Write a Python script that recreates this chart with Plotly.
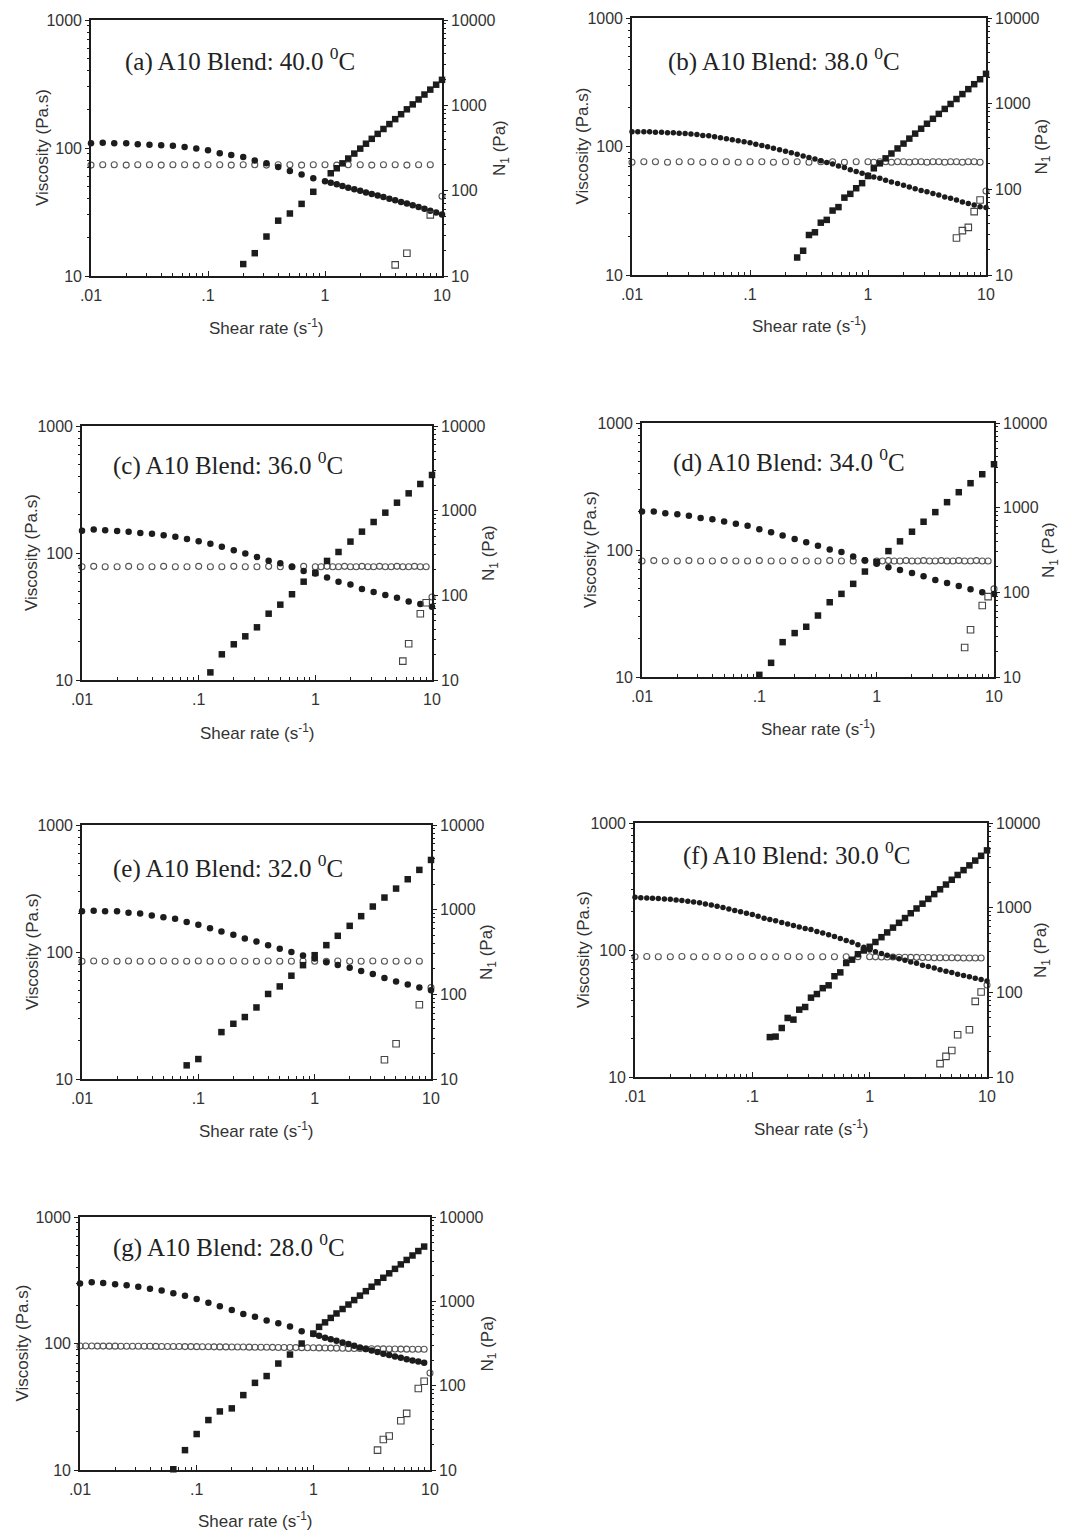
import plotly.graph_objects as go

# ---------------- shear-rate grids (s^-1) ----------------
X10 = [0.01, 0.0126, 0.0158, 0.02, 0.0251, 0.0316, 0.0398, 0.0501, 0.0631, 0.0794,
       0.1, 0.126, 0.158, 0.2, 0.251, 0.316, 0.398, 0.501, 0.631, 0.794,
       1.0, 1.26, 1.58, 2.0, 2.51, 3.16, 3.98, 5.01, 6.31, 7.94, 10.0]
X20 = [0.01, 0.0112, 0.0126, 0.0141, 0.0158, 0.0178, 0.02, 0.0224, 0.0251, 0.0282,
       0.0316, 0.0355, 0.0398, 0.0447, 0.0501, 0.0562, 0.0631, 0.0708, 0.0794, 0.0891,
       0.1, 0.112, 0.126, 0.141, 0.158, 0.178, 0.2, 0.224, 0.251, 0.282,
       0.316, 0.355, 0.398, 0.447, 0.501, 0.562, 0.631, 0.708, 0.794, 0.891,
       1.0, 1.12, 1.26, 1.41, 1.58, 1.78, 2.0, 2.24, 2.51, 2.82,
       3.16, 3.55, 3.98, 4.47, 5.01, 5.62, 6.31, 7.08, 7.94, 8.91, 10.0]

# ---------------- (a) 40.0 C ----------------
a_visc_x = X10[:20] + X20[40:]
a_visc = [109, 110, 109, 109, 107, 106, 105, 104, 102, 99,
          96, 91, 88, 85, 80, 76, 71, 66, 62, 58,
          55, 53.5, 52, 50.5, 49, 47.6, 46.3, 45, 43.8, 42.6,
          41.4, 40.2, 39, 37.9, 36.8, 35.7, 34.6, 33.5, 32.4, 31.3, 30.3]
a_oc_x = X10
a_oc = [73.5, 74, 74, 73.5, 74, 74, 73.5, 74, 74, 73.5,
        74, 74, 73.5, 74, 74, 73.5, 74, 74, 73.5, 74,
        74, 73.5, 74, 74, 73.5, 74, 74, 73.5, 74, 74, 42]
a_n1_x = X10[13:20] + X20[41:]
a_n1 = [13.8, 18.5, 29, 44.5, 54, 70, 97,
        160, 183, 209, 238, 272, 311, 355, 405, 463, 528,
        603, 689, 787, 898, 1026, 1171, 1338, 1528, 1745, 1990]
a_os_x = [3.98, 5.01, 7.94]
a_os = [13.5, 18.5, 52]

# ---------------- (b) 38.0 C ----------------
b_visc_x = X20
b_visc = [130, 130, 130, 130, 129, 129, 128, 128, 127, 126,
          125, 124, 122, 121, 119, 117, 115, 113, 111, 109,
          107, 104, 102, 99.5, 97, 94.5, 92, 89.5, 87, 84.5,
          82, 80, 77.5, 75, 73, 70.5, 68.5, 66, 64, 62,
          60, 58, 56.5, 54.5, 53, 51.5, 50, 48.5, 47, 45.5,
          44.5, 43, 42, 40.5, 39.5, 38.3, 37, 36, 35, 34, 33.5]
b_oc_x = X10[:20] + X20[40:]
b_oc = [75.5, 76, 76, 75.5, 76, 76, 75.5, 76, 76, 75.5,
        76, 76, 75.5, 76, 76, 75.5, 76, 76, 75.5, 76,
        76, 75.5, 76, 76, 75.5, 76, 76, 75.5, 76, 76,
        75.5, 76, 76, 75.5, 76, 76, 75.5, 76, 76, 75.5, 45]
b_n1_x = X20[28:]
b_n1 = [16, 19.2, 29.3, 31.5, 40.8, 44, 56.5, 62, 80, 88.5, 103, 118,
        143, 176, 201, 230, 262, 300, 342, 391, 447, 510, 583, 666, 760,
        868, 992, 1133, 1294, 1478, 1688, 1928, 2230]
b_os_x = [5.62, 6.31, 7.08, 7.94, 8.91]
b_os = [27, 33, 36, 55, 75]

# ---------------- (c) 36.0 C ----------------
c_visc_x = X10
c_visc = [150, 153, 151, 149, 147, 144, 142, 138, 134, 129,
          124, 118, 112, 105, 99, 93, 87, 83, 78, 72,
          69, 64, 59.5, 56.5, 52, 49.3, 46.7, 44.5, 41.6, 39.6, 37.8]
c_oc_x = X10[:20] + X20[40:]
c_oc = [78, 78.5, 78, 78, 78.5, 78, 78, 78.5, 78, 78,
        78.5, 78, 78, 78.5, 78, 78, 78.5, 78, 78, 78.5,
        78, 78, 78.5, 78, 78, 78.5, 78, 78, 78.5, 78,
        78, 78.5, 78, 78, 78.5, 78, 78, 78.5, 78, 78, 45]
c_n1_x = X10[11:]
c_n1 = [12.3, 20.1, 26.4, 32.8, 41.9, 60.7, 77.6, 103, 145, 184,
        255, 325, 431, 565, 735, 947, 1242, 1602, 2066, 2638]
c_os_x = [5.62, 6.31, 7.94, 8.91]
c_os = [16.7, 26.8, 60.7, 81.8]

# ---------------- (d) 34.0 C ----------------
d_visc_x = X10
d_visc = [201, 201, 195, 191, 186, 179, 175, 168, 161, 155,
          146, 138, 130, 122, 115, 108, 101, 96.5, 89, 83,
          78, 73, 69.5, 66, 62, 58, 55, 52, 49, 46.5, 45]
d_oc_x = X10[:20] + X20[40:]
d_oc = [82, 82.5, 82, 82, 82.5, 82, 82, 82.5, 82, 82,
        82.5, 82, 82, 82.5, 82, 82, 82.5, 82, 82, 82.5,
        82, 82, 82.5, 82, 82, 82.5, 82, 82, 82.5, 82,
        82, 82.5, 82, 82, 82.5, 82, 82, 82.5, 82, 82, 49.4]
d_n1_x = X10[10:]
d_n1 = [10.6, 14.7, 25.8, 33, 39.2, 53.2, 76.4, 95.9, 126, 176, 228,
        307, 400, 520, 682, 886, 1161, 1523, 1945, 2483, 3258]
d_os_x = [5.62, 6.31, 7.94, 8.91]
d_os = [22.3, 36.2, 69.8, 89]

# ---------------- (e) 32.0 C ----------------
e_visc_x = X10
e_visc = [209, 211, 209, 209, 204, 201, 194, 188, 183, 172,
          164, 154, 145, 137, 128, 121, 113, 106, 100, 94,
          89, 83, 79, 75, 71, 67, 62.5, 58.5, 55.5, 52.5, 50]
e_oc_x = X10
e_oc = [84.5, 85, 84.5, 84.5, 85, 84.5, 84.5, 85, 84.5, 84.5,
        85, 84.5, 84.5, 85, 84.5, 84.5, 85, 84.5, 84.5, 85,
        84.5, 84.5, 85, 84.5, 84.5, 85, 84.5, 84.5, 85, 84.5, 52.4]
e_n1_x = X10[9:11] + X10[12:]
e_n1 = [14.5, 17.2, 35.8, 44.9, 53.9, 70, 101, 124, 166, 221, 290,
        381, 491, 644, 838, 1089, 1390, 1775, 2287, 2950, 3866]
e_os_x = [3.98, 5.01, 7.94]
e_os = [16.9, 26.1, 75.3]

# ---------------- (f) 30.0 C ----------------
f_visc_x = X20
f_visc = [260, 258, 257, 255, 254, 252, 251, 248, 245, 242,
          239, 235, 230, 226, 221, 216, 210, 205, 200, 195,
          190, 184, 178, 174, 170, 165, 160, 156, 152, 148,
          145, 140, 136, 132, 128, 123, 119, 115, 110, 105,
          100, 97, 94, 91, 88, 85.5, 83, 80.5, 78.5, 76,
          74, 72, 70, 68, 66.5, 64.5, 63, 61.5, 60, 58.5, 57]
f_oc_x = X10[:20] + X20[40:]
f_oc = [88.5, 89, 88.5, 88.5, 89, 88.5, 88.5, 89, 88.5, 88.5,
        89, 88.5, 88.5, 89, 88.5, 88.5, 88.5, 88.5, 88.5, 88.5,
        88.5, 88.3, 88.2, 88, 88, 87.8, 87.7, 87.5, 87.5, 87.3,
        87.2, 87, 87, 86.9, 86.8, 86.7, 86.6, 86.5, 86.5, 86.5, 53]
f_n1_x = X20[23:]
f_n1 = [29.6, 30, 37.9, 49.8, 47.6, 62.4, 67.1, 86.5, 95.5, 112, 121, 155, 172, 222, 243,
        282, 312, 345, 393, 448, 510, 581, 662, 754, 859, 978, 1114, 1269, 1446,
        1647, 1876, 2137, 2434, 2773, 3158, 3598, 4098, 4750]
f_os_x = [3.98, 4.47, 5.01, 5.62, 7.08, 7.94, 8.91]
f_os = [14.4, 17.5, 20.6, 31.6, 36.2, 78.3, 101]

# ---------------- (g) 28.0 C ----------------
g_visc_x = X10[:20] + X20[40:60]
g_visc = [298, 305, 301, 294, 289, 281, 271, 262, 250, 238,
          225, 210, 197, 184, 171, 163, 152, 144.5, 136, 125,
          119, 115, 111, 108, 105, 102, 99, 96, 93, 90.5,
          88, 85.5, 83, 81, 79, 77, 75, 73.5, 72, 70.5]
g_oc_x = X20
g_oc = [95.5, 95.5, 95.5, 95.4, 95.4, 95.3, 95.3, 95.2, 95.2, 95.1,
        95, 95, 95, 94.9, 94.8, 94.8, 94.7, 94.6, 94.5, 94.5,
        94.4, 94.3, 94.2, 94.1, 94, 94, 93.9, 93.8, 93.7, 93.6,
        93.5, 93.4, 93.3, 93.2, 93.1, 93, 92.9, 92.8, 92.7, 92.6,
        92.5, 92.3, 92.2, 92, 91.9, 91.7, 91.5, 91.4, 91.2, 91,
        90.9, 90.7, 90.6, 90.5, 90.4, 90.3, 90.2, 90.1, 90, 90, 58.5]
g_n1_x = X10[8:20] + X20[40:60]
g_n1 = [10.2, 17.2, 26.7, 39.1, 49.5, 53.8, 77.3, 108, 130, 183, 234, 316,
        415, 498, 563, 636, 718, 811, 916, 1035, 1169, 1320, 1491, 1684,
        1902, 2148, 2426, 2741, 3095, 3496, 3949, 4460]
g_os_x = [3.55, 3.98, 4.47, 5.62, 6.31, 7.94, 8.91]
g_os = [17.2, 23, 25.3, 38.4, 46.9, 92.7, 113]

# tick labels
X_TICKS = [0.01, 0.1, 1, 10]
X_TICKTEXT = [".01", ".1", "1", "10"]
YL_TICKS = [10, 100, 1000]
YL_TICKTEXT = ["10", "100", "1000"]
YR_TICKS = [10, 100, 1000, 10000]
YR_TICKTEXT = ["10", "100", "1000", "10000"]

LABELS = ["(a) A10 Blend: 40.0 <sup>0</sup>C", "(b) A10 Blend: 38.0 <sup>0</sup>C",
          "(c) A10 Blend: 36.0 <sup>0</sup>C", "(d) A10 Blend: 34.0 <sup>0</sup>C",
          "(e) A10 Blend: 32.0 <sup>0</sup>C", "(f) A10 Blend: 30.0 <sup>0</sup>C",
          "(g) A10 Blend: 28.0 <sup>0</sup>C"]

# ---------------- layout geometry (pixels) ----------------
W, H = 1081, 1532
panels = [
    dict(box=(91, 442, 20, 276), lab=(32, 40), lt=49, rt=59, bt=51, dense=False,
         data=(a_visc_x, a_visc, a_oc_x, a_oc, a_n1_x, a_n1, a_os_x, a_os)),
    dict(box=(632, 986, 18, 275), lab=(34, 42), lt=50, rt=56, bt=50, dense=True,
         data=(b_visc_x, b_visc, b_oc_x, b_oc, b_n1_x, b_n1, b_os_x, b_os)),
    dict(box=(82, 432, 426, 680), lab=(29, 37), lt=50, rt=58, bt=52, dense=False,
         data=(c_visc_x, c_visc, c_oc_x, c_oc, c_n1_x, c_n1, c_os_x, c_os)),
    dict(box=(642, 994, 423, 677), lab=(29, 37), lt=51, rt=56, bt=51, dense=False,
         data=(d_visc_x, d_visc, d_oc_x, d_oc, d_n1_x, d_n1, d_os_x, d_os)),
    dict(box=(82, 431, 825, 1079), lab=(29, 41), lt=50, rt=57, bt=51, dense=False,
         data=(e_visc_x, e_visc, e_oc_x, e_oc, e_n1_x, e_n1, e_os_x, e_os)),
    dict(box=(635, 987, 823, 1077), lab=(46, 30), lt=52, rt=55, bt=51, dense=True,
         data=(f_visc_x, f_visc, f_oc_x, f_oc, f_n1_x, f_n1, f_os_x, f_os)),
    dict(box=(80, 430, 1217, 1470), lab=(31, 28), lt=58, rt=58, bt=50, dense=False,
         data=(g_visc_x, g_visc, g_oc_x, g_oc, g_n1_x, g_n1, g_os_x, g_os)),
]

INK = "#1c1c1c"
TICKFONT = dict(family="Liberation Sans, Arial, sans-serif", size=16, color="#333")
TITLEFONT = dict(family="Liberation Sans, Arial, sans-serif", size=17, color="#333")
SERIF = dict(family="Liberation Serif, Times New Roman, serif", size=25, color="#222")

minor_x = [m * 10 ** e for e in (-2, -1, 0) for m in range(2, 10)]
minor_yl = [m * 10 ** e for e in (1, 2) for m in range(2, 10)]
minor_yr = [m * 10 ** e for e in (1, 2, 3) for m in range(2, 10)]

fig = go.Figure()
layout = {}
annotations = []

for i, p in enumerate(panels):
    n = i + 1
    xname = "x" if n == 1 else f"x{n}"
    xkey = "xaxis" if n == 1 else f"xaxis{n}"
    yl = 2 * i + 1
    yr = 2 * i + 2
    ylname = "y" if yl == 1 else f"y{yl}"
    ylkey = "yaxis" if yl == 1 else f"yaxis{yl}"
    yrname = f"y{yr}"
    yrkey = f"yaxis{yr}"
    L, R, T, B = p["box"]
    xdom = [L / W, R / W]
    ydom = [1 - B / H, 1 - T / H]

    layout[xkey] = dict(domain=xdom, anchor=ylname, type="log", range=[-2, 1], automargin=False,
                        tickmode="array", tickvals=X_TICKS, ticktext=X_TICKTEXT,
                        ticks="inside", ticklen=5, tickwidth=1, tickcolor=INK,
                        minor=dict(tickmode="array", tickvals=minor_x, ticks="inside",
                                   ticklen=3, tickcolor=INK, showgrid=False),
                        showline=True, linecolor=INK, linewidth=1.6, mirror=True,
                        showgrid=False, zeroline=False, tickfont=TICKFONT, ticklabelstandoff=4)
    layout[ylkey] = dict(domain=ydom, anchor=xname, type="log", range=[1, 3], automargin=False,
                         tickmode="array", tickvals=YL_TICKS, ticktext=YL_TICKTEXT,
                         ticks="outside", ticklen=4, tickwidth=1, tickcolor=INK,
                         minor=dict(tickmode="array", tickvals=minor_yl, ticks="outside",
                                    ticklen=2, tickcolor=INK, showgrid=False),
                         showline=True, linecolor=INK, linewidth=1.6,
                         showgrid=False, zeroline=False, tickfont=TICKFONT)
    layout[yrkey] = dict(overlaying=ylname, anchor=xname, side="right", type="log", range=[1, 4],
                         automargin=False,
                         tickmode="array", tickvals=YR_TICKS, ticktext=YR_TICKTEXT,
                         ticks="outside", ticklen=4, tickwidth=1, tickcolor=INK,
                         minor=dict(tickmode="array", tickvals=minor_yr, ticks="outside",
                                    ticklen=2, tickcolor=INK, showgrid=False),
                         showline=True, linecolor=INK, linewidth=1.6,
                         showgrid=False, zeroline=False, tickfont=TICKFONT)

    vx, vy, ox, oy, nx, ny, sx, sy = p["data"]
    vsize = 5.5 if p["dense"] else 6.5
    fig.add_trace(go.Scatter(x=ox, y=oy, xaxis=xname, yaxis=ylname, mode="markers",
                             cliponaxis=False, showlegend=False,
                             marker=dict(symbol="circle-open", size=6, color="#555",
                                         line=dict(width=1.1, color="#555"))))
    fig.add_trace(go.Scatter(x=vx, y=vy, xaxis=xname, yaxis=ylname, mode="markers",
                             cliponaxis=False, showlegend=False,
                             marker=dict(symbol="circle", size=vsize, color=INK)))
    fig.add_trace(go.Scatter(x=nx, y=ny, xaxis=xname, yaxis=yrname, mode="markers",
                             cliponaxis=False, showlegend=False,
                             marker=dict(symbol="square", size=6.5, color=INK)))
    fig.add_trace(go.Scatter(x=sx, y=sy, xaxis=xname, yaxis=yrname, mode="markers",
                             cliponaxis=False, showlegend=False,
                             marker=dict(symbol="square-open", size=6.5, color="#444",
                                         line=dict(width=1.1, color="#444"))))

    annotations.append(dict(xref="paper", yref="paper", x=(L + p["lab"][0]) / W,
                            y=1 - (T + p["lab"][1]) / H, xanchor="left", yanchor="middle",
                            showarrow=False, text=LABELS[i], font=SERIF))
    ymid = 1 - ((T + B) / 2) / H
    annotations.append(dict(xref="paper", yref="paper", x=(L - p["lt"]) / W, y=ymid,
                            xanchor="center", yanchor="middle", textangle=-90,
                            showarrow=False, text="Viscosity (Pa.s)", font=TITLEFONT))
    annotations.append(dict(xref="paper", yref="paper", x=(R + p["rt"]) / W, y=ymid,
                            xanchor="center", yanchor="middle", textangle=-90,
                            showarrow=False, text="N<sub>1</sub> (Pa)", font=TITLEFONT))
    annotations.append(dict(xref="paper", yref="paper", x=((L + R) / 2) / W,
                            y=1 - (B + p["bt"]) / H, xanchor="center", yanchor="middle",
                            showarrow=False, text="Shear rate (s<sup>-1</sup>)", font=TITLEFONT))

fig.update_layout(**layout)
fig.update_layout(width=W, height=H, margin=dict(l=0, r=0, t=0, b=0, autoexpand=False),
                  paper_bgcolor="white", plot_bgcolor="white", template="none",
                  annotations=annotations, showlegend=False)

fig.write_html("out.html", config={"displayModeBar": False},
               post_script="document.body.style.margin='0';")
